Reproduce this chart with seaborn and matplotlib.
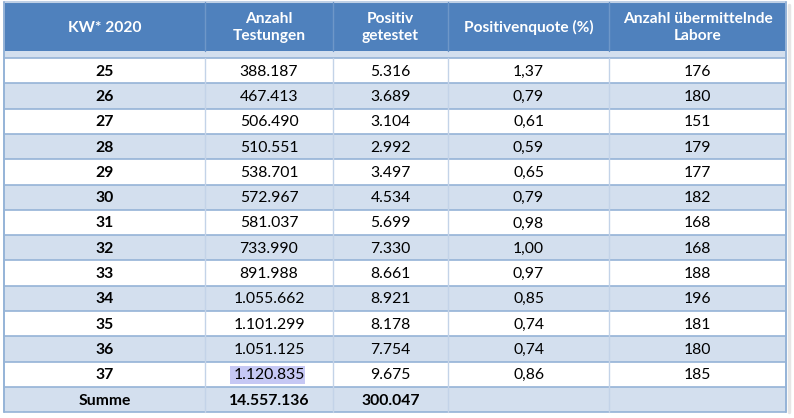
import matplotlib.pyplot as plt
from matplotlib.patches import Rectangle
import seaborn as sns

# table values (KW 25-37, 2020)
kw = [25, 26, 27, 28, 29, 30, 31, 32, 33, 34, 35, 36, 37]
tests = [388187, 467413, 506490, 510551, 538701, 572967, 581037,
         733990, 891988, 1055662, 1101299, 1051125, 1120835]
positive = [5316, 3689, 3104, 2992, 3497, 4534, 5699,
            7330, 8661, 8921, 8178, 7754, 9675]
quote = [1.37, 0.79, 0.61, 0.59, 0.65, 0.79, 0.98,
         1.00, 0.97, 0.85, 0.74, 0.74, 0.86]
labs = [176, 180, 151, 179, 177, 182, 168, 168, 188, 196, 181, 180, 185]
sum_label = "Summe"
sum_tests = 14557136
sum_positive = 300047
headers = ["KW* 2020", "Anzahl\nTestungen", "Positiv\ngetestet",
           "Positivenquote (%)", "Anzahl übermittelnde\nLabore"]

sns.set_style("white")
plt.rcParams["font.family"] = ["Lato", "DejaVu Sans"]

HEAD_BLUE = "#4F81BD"
STRIPE = "#D3DFEE"
LINE = "#95B3D7"


def de_int(v):
    return f"{v:,}".replace(",", ".")


def de_dec(v):
    return f"{v:.2f}".replace(".", ",")


edges = [4, 205, 333, 448, 609, 786]
centers = [(a + b) / 2 for a, b in zip(edges[:-1], edges[1:])]
head_top, head_bot = 2, 51
row_top, row_h = 58, 25.3

fig = plt.figure(figsize=(7.94, 4.18), dpi=100)
ax = fig.add_axes([0, 0, 1, 1])
ax.set_xlim(0, 794)
ax.set_ylim(418, 0)
ax.axis("off")

# header
ax.add_patch(Rectangle((edges[0], head_top), edges[-1] - edges[0],
                       head_bot - head_top, color=HEAD_BLUE, lw=0))
ax.add_patch(Rectangle((edges[0], head_bot), edges[-1] - edges[0],
                       row_top - head_bot, color=STRIPE, lw=0))
for c, h in zip(centers, headers):
    ax.text(c, (head_top + head_bot) / 2 + 1, h, color="white",
            fontsize=11.2, fontweight="bold", ha="center", va="center",
            linespacing=1.2, zorder=4)

rows = []
for k, t, p, q, l in zip(kw, tests, positive, quote, labs):
    rows.append([str(k), de_int(t), de_int(p), de_dec(q), str(l)])
rows.append([sum_label, de_int(sum_tests), de_int(sum_positive), "", ""])

for i, r in enumerate(rows):
    y0 = row_top + i * row_h
    fc = "white" if i % 2 == 0 else STRIPE
    ax.add_patch(Rectangle((edges[0], y0), edges[-1] - edges[0], row_h,
                           facecolor=fc, lw=0))
    ax.plot([edges[0], edges[-1]], [y0, y0], color=LINE, lw=1.2)
    is_sum = i == len(rows) - 1
    for j, (c, s) in enumerate(zip(centers, r)):
        bold = j == 0 or is_sum
        ax.text(c, y0 + row_h / 2 + 1, s, fontsize=11.3,
                fontweight="bold" if bold else "normal",
                ha="center", va="center", color="black", zorder=4)

# highlight on last week's test count
hl_y = row_top + (len(rows) - 2) * row_h
ax.add_patch(Rectangle((230, hl_y + 4), 75, row_h - 7,
                       facecolor="#C6C8F4", lw=0, zorder=1.5))

bottom = row_top + len(rows) * row_h
ax.plot([edges[0], edges[-1]], [bottom, bottom], color=LINE, lw=1.2)
ax.plot([edges[0], edges[-1]], [head_top, head_top], color="#BFD0E6", lw=1.5)
for x in edges[1:-1]:
    ax.plot([x, x], [head_top, head_bot], color="#6E97C8", lw=1)
    ax.plot([x, x], [row_top, bottom], color="#C3D3E8", lw=1)
for x in (edges[0], edges[-1]):
    ax.plot([x, x], [head_top, bottom], color=LINE, lw=1.4)
ax.plot([edges[-1] + 3, edges[-1] + 3], [head_top + 3, bottom],
        color="#E6E6E6", lw=2.5)

fig.savefig("out.png", dpi=100)
